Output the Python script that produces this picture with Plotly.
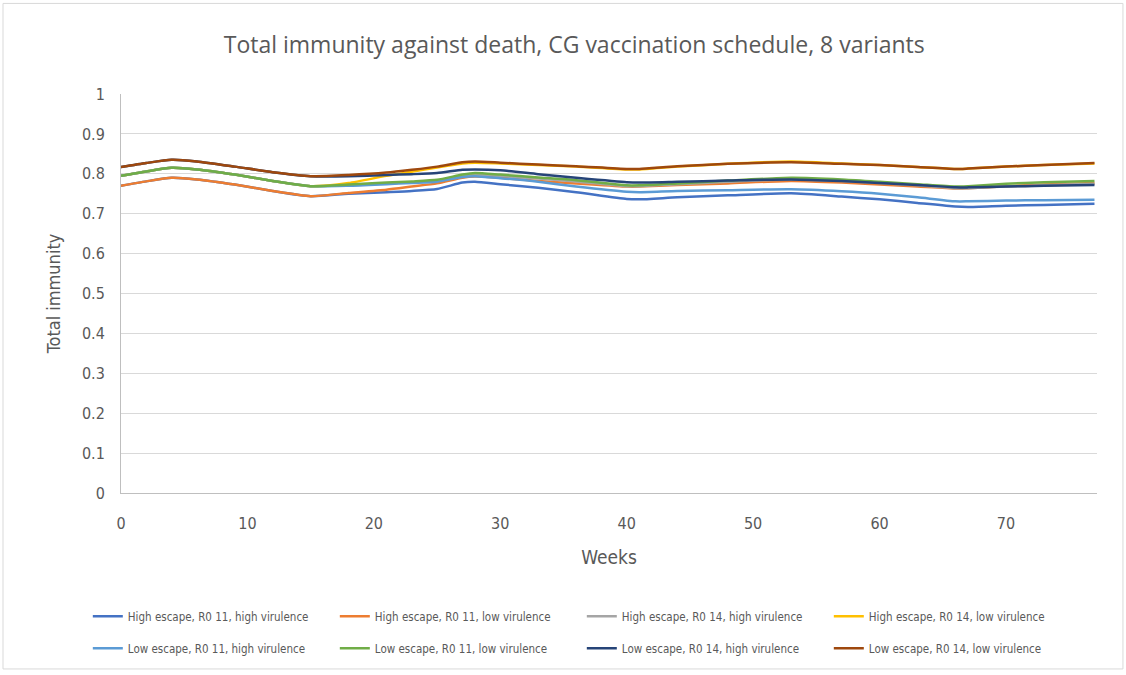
import plotly.graph_objects as go

weeks = [0, 2, 4, 6, 9, 12, 15, 18, 21, 23, 25, 27, 28, 30, 33, 36, 40, 41, 44, 48, 53, 57, 60, 63, 66, 67, 70, 73, 77]

high_r011_high = [0.770, 0.781, 0.790, 0.786, 0.773, 0.757, 0.744, 0.750, 0.754, 0.757, 0.762, 0.778, 0.780, 0.774, 0.765, 0.754, 0.737, 0.736, 0.741, 0.746, 0.751, 0.743, 0.736, 0.727, 0.718, 0.717, 0.720, 0.722, 0.725]
high_r011_low = [0.770, 0.781, 0.790, 0.786, 0.773, 0.757, 0.744, 0.752, 0.760, 0.768, 0.776, 0.790, 0.793, 0.790, 0.782, 0.776, 0.768, 0.768, 0.772, 0.776, 0.782, 0.778, 0.773, 0.768, 0.763, 0.764, 0.769, 0.773, 0.777]
high_r014_high = [0.795, 0.806, 0.815, 0.811, 0.798, 0.782, 0.769, 0.772, 0.776, 0.779, 0.783, 0.796, 0.799, 0.795, 0.788, 0.781, 0.769, 0.769, 0.774, 0.780, 0.786, 0.782, 0.777, 0.771, 0.764, 0.764, 0.768, 0.771, 0.775]
high_r014_low = [0.795, 0.806, 0.815, 0.811, 0.798, 0.782, 0.769, 0.777, 0.795, 0.805, 0.816, 0.826, 0.828, 0.826, 0.822, 0.818, 0.811, 0.811, 0.818, 0.825, 0.831, 0.826, 0.822, 0.817, 0.812, 0.813, 0.818, 0.822, 0.826]
low_r011_high = [0.795, 0.806, 0.815, 0.811, 0.798, 0.782, 0.769, 0.770, 0.774, 0.777, 0.780, 0.792, 0.794, 0.789, 0.780, 0.768, 0.755, 0.754, 0.757, 0.759, 0.761, 0.756, 0.750, 0.741, 0.731, 0.731, 0.733, 0.734, 0.735]
low_r011_low = [0.795, 0.806, 0.815, 0.811, 0.798, 0.782, 0.769, 0.773, 0.778, 0.781, 0.785, 0.798, 0.802, 0.798, 0.791, 0.784, 0.771, 0.771, 0.776, 0.783, 0.790, 0.786, 0.780, 0.774, 0.768, 0.769, 0.775, 0.779, 0.782]
low_r014_high = [0.817, 0.827, 0.835, 0.831, 0.818, 0.804, 0.794, 0.794, 0.797, 0.799, 0.802, 0.810, 0.811, 0.809, 0.799, 0.790, 0.779, 0.778, 0.780, 0.783, 0.786, 0.782, 0.777, 0.772, 0.766, 0.766, 0.768, 0.770, 0.772]
low_r014_low = [0.817, 0.827, 0.835, 0.831, 0.818, 0.804, 0.794, 0.797, 0.803, 0.810, 0.818, 0.829, 0.831, 0.828, 0.823, 0.819, 0.812, 0.812, 0.819, 0.825, 0.829, 0.825, 0.822, 0.817, 0.812, 0.813, 0.818, 0.822, 0.827]

names = [
    "High escape, R0 11, high virulence",
    "High escape, R0 11, low virulence",
    "High escape, R0 14, high virulence",
    "High escape, R0 14, low virulence",
    "Low escape, R0 11, high virulence",
    "Low escape, R0 11, low virulence",
    "Low escape, R0 14, high virulence",
    "Low escape, R0 14, low virulence",
]
series = [high_r011_high, high_r011_low, high_r014_high, high_r014_low,
          low_r011_high, low_r011_low, low_r014_high, low_r014_low]
colors = ["#4472C4", "#ED7D31", "#A5A5A5", "#FFC000",
          "#5B9BD5", "#70AD47", "#264478", "#9E480E"]

y_ticks = [0, 0.1, 0.2, 0.3, 0.4, 0.5, 0.6, 0.7, 0.8, 0.9, 1]
y_labels = ["0", "0.1", "0.2", "0.3", "0.4", "0.5", "0.6", "0.7", "0.8", "0.9", "1"]
x_ticks = [0, 10, 20, 30, 40, 50, 60, 70]

FONT = "Liberation Sans Narrow, DejaVu Sans Condensed, Arial Narrow, sans-serif"
TITLE_FONT = "Open Sans, sans-serif"
TXT = "#595959"

fig = go.Figure()
for i, (n, s, c) in enumerate(zip(names, series, colors)):
    fig.add_trace(go.Scatter(x=weeks, y=s, name=n, mode="lines",
                             legend="legend" if i < 4 else "legend2",
                             line=dict(color=c, width=2.5, shape="spline", smoothing=0.6)))

legend_common = dict(orientation="h", x=-0.034, xanchor="left", yanchor="middle",
                     entrywidth=202, entrywidthmode="pixels",
                     font=dict(size=11.5, color=TXT, family=FONT),
                     bgcolor="rgba(0,0,0,0)")

fig.update_layout(
    width=1126, height=675,
    margin=dict(l=121, r=29, t=94, b=180),
    paper_bgcolor="white", plot_bgcolor="white",
    font=dict(family=FONT, color=TXT),
    title=dict(text="Total immunity against death, CG vaccination schedule, 8 variants",
               x=0.51, xanchor="center", y=0.933, yanchor="middle",
               font=dict(size=23, color=TXT, family=TITLE_FONT)),
    xaxis=dict(range=[0, 77.2], tickvals=x_ticks, showgrid=False, zeroline=False,
               showline=True, linecolor="#BFBFBF", linewidth=1,
               ticks="", ticklabelstandoff=16, tickfont=dict(size=16, color=TXT),
               title=dict(text="Weeks", font=dict(size=19, color=TXT), standoff=18)),
    yaxis=dict(range=[0, 1], tickvals=y_ticks, ticktext=y_labels,
               showgrid=True, gridcolor="#D9D9D9", gridwidth=1, zeroline=False,
               showline=True, linecolor="#BFBFBF", linewidth=1,
               ticks="", ticklabelstandoff=12, tickfont=dict(size=16, color=TXT),
               title=dict(text="Total immunity", font=dict(size=18, color=TXT), standoff=16)),
    legend=dict(y=-0.309, **legend_common),
    legend2=dict(y=-0.389, **legend_common),
    showlegend=True,
)

fig.add_shape(type="rect", xref="paper", yref="paper",
              x0=-0.1209, x1=1.0266, y0=-0.441, y1=1.227,
              line=dict(color="#D9D9D9", width=1), fillcolor="rgba(0,0,0,0)", layer="below")

fig.write_html("out.html", config={"displayModeBar": False},
               post_script="document.body.style.margin='0';")
